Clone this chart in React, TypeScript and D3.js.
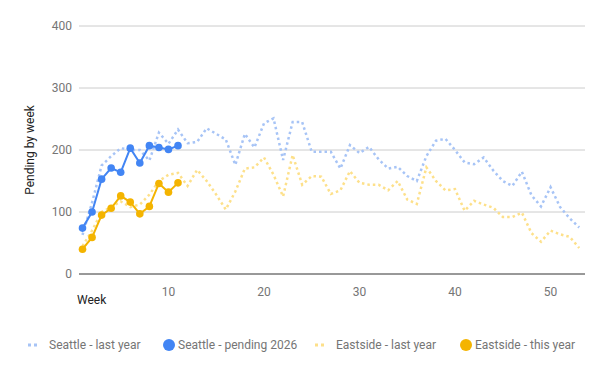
import React from 'react';
import * as d3 from 'd3';

const weeks = d3.range(1, 54);

const seattleLastYear = [
  63, 115, 175, 190, 203, 200, 200, 183, 228, 210,
  233, 211, 213, 235, 226, 217, 176, 226, 204, 243,
  251, 184, 245, 245, 197, 197, 197, 170, 208, 195,
  205, 185, 170, 173, 158, 150, 190, 215, 218, 200,
  180, 177, 188, 167, 150, 142, 165, 127, 109, 140,
  108, 90, 75,
];

const seattleThisYear = [74, 100, 153, 171, 164, 203, 179, 207, 204, 201, 207];

const eastsideLastYear = [
  45, 70, 100, 108, 117, 108, 112, 128, 150, 160,
  163, 142, 168, 150, 128, 104, 133, 170, 172, 188,
  160, 125, 192, 144, 158, 157, 129, 135, 166, 147,
  144, 144, 135, 150, 120, 113, 172, 150, 135, 137,
  102, 118, 112, 107, 92, 92, 99, 66, 52, 70,
  64, 60, 42,
];

const eastsideThisYear = [40, 59, 95, 106, 126, 116, 97, 109, 146, 132, 147];

const yTicks = [0, 100, 200, 300, 400];
const xTicks = [10, 20, 30, 40, 50];

const legendItems = [
  { label: 'Seattle - last year', color: '#a7c4f6', dotted: true, x: 28 },
  { label: 'Seattle - pending 2026', color: '#4285f4', dotted: false, x: 163 },
  { label: 'Eastside - last year', color: '#fde08a', dotted: true, x: 315 },
  { label: 'Eastside - this year', color: '#f4b400', dotted: false, x: 460 },
];

const App = () => {
  const left = 79;
  const right = 585;
  const x = d3.scaleLinear().domain([1, 53]).range([82.5, 579.2]);
  const y = d3.scaleLinear().domain([0, 400]).range([274, 26]);

  const line = d3
    .line<number>()
    .x((_, i) => x(weeks[i]))
    .y((d) => y(d));

  const font = 'Roboto, Arial, sans-serif';

  return (
    <svg
      width={600}
      height={371}
      style={{ position: 'absolute', left: 0, top: 0, background: '#fff' }}
      fontFamily={font}
    >
      {yTicks.map((t) => (
        <g key={t}>
          {t > 0 && <line x1={left} x2={right} y1={y(t)} y2={y(t)} stroke="#cccccc" strokeWidth={1} />}
          <text x={72} y={y(t)} dy="0.35em" textAnchor="end" fontSize={12} fill="#757575">
            {t}
          </text>
        </g>
      ))}

      <path d={line(seattleLastYear) || ''} fill="none" stroke="#a7c4f6" strokeWidth={2.5} strokeDasharray="2.5,3" />
      <path d={line(eastsideLastYear) || ''} fill="none" stroke="#fde08a" strokeWidth={2.5} strokeDasharray="2.5,3" />

      <path d={line(seattleThisYear) || ''} fill="none" stroke="#4285f4" strokeWidth={2} />
      {seattleThisYear.map((v, i) => (
        <circle key={'s' + i} cx={x(weeks[i])} cy={y(v)} r={3.8} fill="#4285f4" />
      ))}

      <path d={line(eastsideThisYear) || ''} fill="none" stroke="#f4b400" strokeWidth={2} />
      {eastsideThisYear.map((v, i) => (
        <circle key={'e' + i} cx={x(weeks[i])} cy={y(v)} r={3.8} fill="#f4b400" />
      ))}

      <line x1={left} x2={right} y1={y(0)} y2={y(0)} stroke="#333333" strokeWidth={1} />

      {xTicks.map((t) => (
        <text key={t} x={x(t)} y={292} dy="0.35em" textAnchor="middle" fontSize={12} fill="#757575">
          {t}
        </text>
      ))}
      <text x={77} y={300} dy="0.35em" fontSize={12} fill="#222222">
        Week
      </text>

      <text
        transform="translate(30,150) rotate(-90)"
        textAnchor="middle"
        dy="0.35em"
        fontSize={12}
        fill="#222222"
      >
        Pending by week
      </text>

      {legendItems.map((item) => (
        <g key={item.label} transform={`translate(${item.x},345)`}>
          {item.dotted ? (
            <line x1={0} x2={12} y1={0} y2={0} stroke={item.color} strokeWidth={3} strokeDasharray="3,3" />
          ) : (
            <circle cx={6} cy={0} r={6} fill={item.color} />
          )}
          <text x={item.dotted ? 21 : 15} y={0} dy="0.35em" fontSize={12} fill="#757575">
            {item.label}
          </text>
        </g>
      ))}
    </svg>
  );
};

export default App;
